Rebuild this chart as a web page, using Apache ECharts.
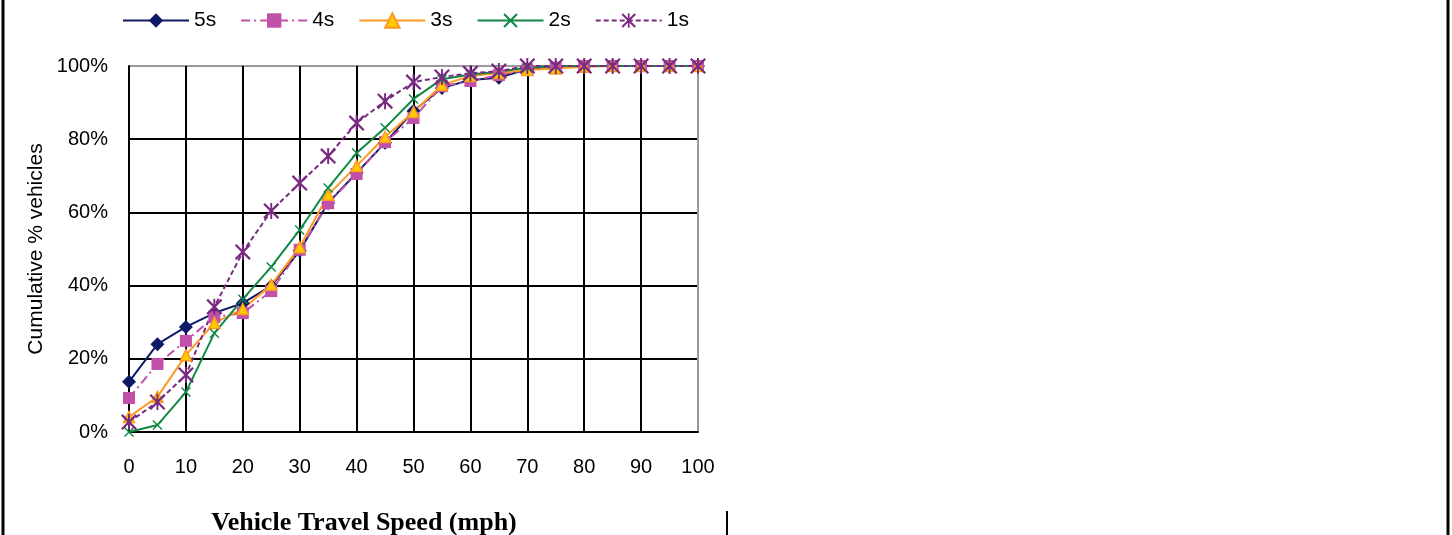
<!DOCTYPE html>
<html>
<head>
<meta charset="utf-8">
<script src="https://cdn.jsdelivr.net/npm/echarts@6/dist/echarts.min.js"></script>
<style>
html,body{margin:0;padding:0;background:#fff;}
#chart{width:1452px;height:535px;}
</style>
</head>
<body>
<div id="chart"></div>
<script>
const speeds = [0,5,10,15,20,25,30,35,40,45,50,55,60,65,70,75,80,85,90,95,100];
const s5 = [13.7,24.0,28.7,32.5,35.2,39.9,49.5,62.6,70.8,79.0,87.7,94.0,96.2,96.8,99.2,99.6,100,100,100,100,100];
const s4 = [9.3,18.6,24.9,31.4,32.5,38.5,49.8,62.5,70.5,79.2,85.8,94.5,95.9,97.5,99.0,99.5,100,100,100,100,100];
const s3 = [4.1,9.6,21.0,29.8,33.6,40.2,50.5,64.8,72.7,80.6,87.4,94.8,97.3,98.1,98.9,99.3,99.8,100,100,100,100];
const s2 = [0.0,1.9,10.9,27.0,36.3,45.1,55.2,66.7,76.2,83.1,91.0,96.4,97.7,98.4,99.6,100,100,100,100,100,100];
const s1 = [2.7,8.2,15.6,34.2,49.2,60.4,68.0,75.4,84.4,90.4,95.6,97.0,98.0,98.6,100,100,100,100,100,100,100];
const seriesNames = ['5s','4s','3s','2s','1s'];
const xTicks = [0,10,20,30,40,50,60,70,80,90,100];
const yTicks = [0,20,40,60,80,100];

const pts = arr => speeds.map((x,i)=>[x,arr[i]]);
const xPath = 'path://M0,1L1,0L10,9L9,10ZM9,0L10,1L1,10L0,9Z';
const starPath = 'path://M0,1L1,0L10,9L9,10ZM9,0L10,1L1,10L0,9ZM4.4,0L5.6,0L5.6,10L4.4,10Z';

const gridX = xTicks.map((t,i)=> i===xTicks.length-1 ? '#999' : '#000');
const gridY = yTicks.map((t,i)=> i===yTicks.length-1 ? '#999' : '#000');

const font = 'Liberation Sans, Arial, sans-serif';
const chart = echarts.init(document.getElementById('chart'));
chart.setOption({
  animation:false,
  backgroundColor:'#fff',
  legend:{
    left:117, top:5, itemWidth:66, itemHeight:18, itemGap:24,
    textStyle:{fontFamily:font,fontSize:21,color:'#000'},
    data:seriesNames
  },
  grid:{left:129,right:754,top:66,bottom:103,containLabel:false},
  xAxis:{
    type:'value',min:0,max:100,interval:10,
    axisLine:{show:true,lineStyle:{color:'#000',width:2}},
    axisTick:{show:false},
    axisLabel:{fontFamily:font,fontSize:20,color:'#000',margin:25},
    splitLine:{show:true,lineStyle:{color:gridX,width:2}}
  },
  yAxis:{
    type:'value',min:0,max:100,interval:20,
    name:'Cumulative % vehicles',nameLocation:'middle',nameGap:82,
    nameTextStyle:{fontFamily:font,fontSize:21,color:'#000'},
    axisLine:{show:true,lineStyle:{color:'#000',width:2}},
    axisTick:{show:false},
    axisLabel:{fontFamily:font,fontSize:20,color:'#000',margin:21,formatter:'{value}%'},
    splitLine:{show:true,lineStyle:{color:gridY,width:2}}
  },
  graphic:[
    {type:'line',shape:{x1:3,y1:0,x2:3,y2:535},style:{stroke:'#000',lineWidth:3}},
    {type:'line',shape:{x1:1448,y1:0,x2:1448,y2:535},style:{stroke:'#000',lineWidth:3}},
    {type:'line',shape:{x1:727,y1:511,x2:727,y2:535},style:{stroke:'#000',lineWidth:2}},
    {type:'text',x:364,y:523,style:{text:'Vehicle Travel Speed (mph)',align:'center',verticalAlign:'middle',font:'bold 26px "Liberation Serif", "Times New Roman", serif',fill:'#000'}}
  ],
  series:[
    {name:'5s',type:'line',data:pts(s5),symbol:'diamond',symbolSize:14,
     lineStyle:{color:'#0f1a66',width:2},itemStyle:{color:'#0f1a66'}},
    {name:'4s',type:'line',data:pts(s4),symbol:'rect',symbolSize:12,
     lineStyle:{color:'#c050a8',width:2,type:[9,4,2,4]},itemStyle:{color:'#c050a8'}},
    {name:'3s',type:'line',data:pts(s3),symbol:'triangle',symbolSize:11,
     lineStyle:{color:'#ff9922',width:2},itemStyle:{color:'#ffcc00',borderColor:'#ff9922',borderWidth:1.5}},
    {name:'2s',type:'line',data:pts(s2),symbol:xPath,symbolSize:10,
     lineStyle:{color:'#118844',width:2},itemStyle:{color:'#118844'}},
    {name:'1s',type:'line',data:pts(s1),symbol:starPath,symbolSize:16,
     lineStyle:{color:'#7a2a80',width:2,type:[5,3]},itemStyle:{color:'#7a2a80'}}
  ]
});
</script>
</body>
</html>
